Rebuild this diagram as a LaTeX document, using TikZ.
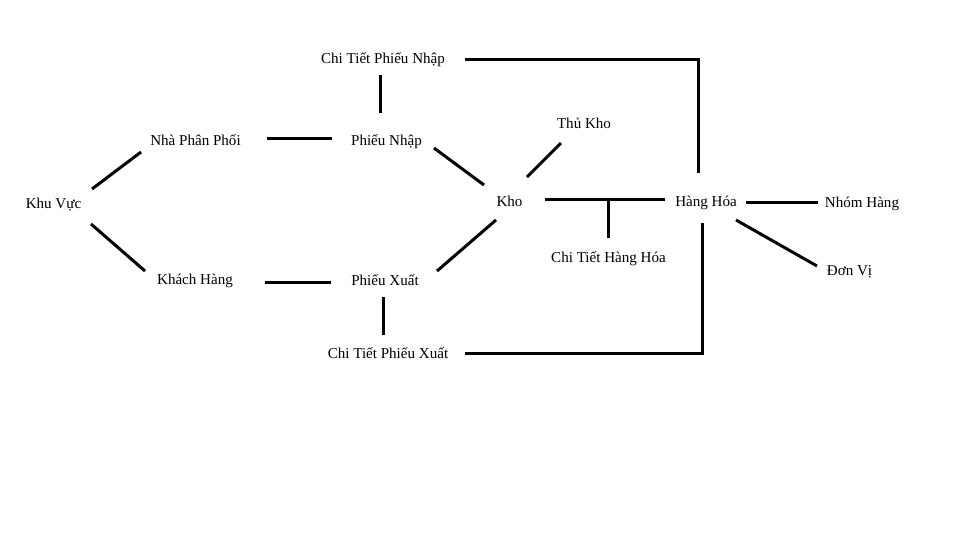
\documentclass[tikz,border=0pt]{standalone}
\usepackage{fontspec}
\setmainfont{Liberation Serif}
\usetikzlibrary{calc}
\begin{document}
\begin{tikzpicture}[x=0.75pt,y=-0.75pt,
  lbl/.style={inner sep=0pt,font=\fontsize{11.3pt}{13.5pt}\selectfont,text height=8.5pt,text depth=1pt},
  link/.style={line width=2.25pt,line cap=butt}]
\useasboundingbox (0,0) rectangle (963,537);
\node[lbl] (ctpn) at (383,58) {Chi Tiết Phiếu Nhập};
\node[lbl] (npp) at (195.5,140) {Nhà Phân Phối};
\node[lbl] (pn) at (386.5,140) {Phiếu Nhập};
\node[lbl] (kv) at (53.5,203) {Khu Vực};
\node[lbl] (kh) at (195,279) {Khách Hàng};
\node[lbl] (px) at (385,280) {Phiếu Xuất};
\node[lbl] (ctpx) at (388,353) {Chi Tiết Phiếu Xuất};
\node[lbl] (kho) at (509.5,201) {Kho};
\node[lbl] (thukho) at (584,123) {Thủ Kho};
\node[lbl] (hh) at (706,201) {Hàng Hóa};
\node[lbl] (ctht) at (608.5,257) {Chi Tiết Hàng Hóa};
\node[lbl] (nh) at (862,202) {Nhóm Hàng};
\node[lbl] (dv) at (849.5,270) {Đơn Vị};
% connectors
\draw[link] ($(ctpn)+(-3,17)$) -- ($(pn)+(-6.5,-27)$);
\draw[link] ($(npp)+(71.5,-2)$) -- ($(pn)+(-54.5,-2)$);
\draw[link] ($(kv)+(38.5,-14)$) -- ($(npp)+(-54.5,12)$);
\draw[link] ($(kv)+(37.5,21)$) -- ($(kh)+(-50,-8)$);
\draw[link] ($(kh)+(70,3)$) -- ($(px)+(-54,2)$);
\draw[link] ($(px)+(-2,17)$) -- ($(ctpx)+(-5,-18)$);
\draw[link] ($(pn)+(47.5,8)$) -- ($(kho)+(-25.5,-16)$);
\draw[link] ($(px)+(52,-9)$) -- ($(kho)+(-13.5,19)$);
\draw[link] ($(kho)+(17.5,-24)$) -- ($(thukho)+(-23,20)$);
\draw[link] ($(kho)+(35.5,-2)$) -- ($(hh)+(-41,-2)$);
\coordinate (br) at ($(ctht)+(-0.5,-58)$);
\draw[link] (br) -- ($(ctht)+(-0.5,-19)$);
\draw[link] ($(hh)+(40,1)$) -- ($(nh)+(-44,0)$);
\draw[link] ($(hh)+(30,19)$) -- ($(dv)+(-32.5,-4)$);
\draw[link] ($(ctpn)+(82,1)$) -| ($(hh)+(-8,-28)$);
\draw[link] ($(ctpx)+(77,0)$) -| ($(hh)+(-4,22)$);
\end{tikzpicture}
\end{document}
